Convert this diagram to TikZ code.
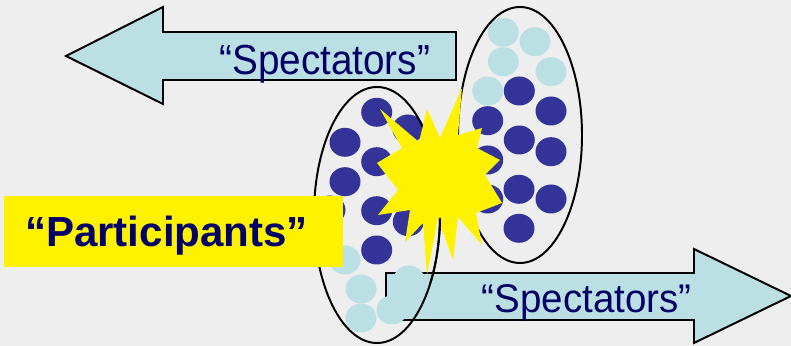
\documentclass[tikz,border=0pt]{standalone}
\usepackage{fontspec}
\usepackage{graphicx}
\setmainfont{Liberation Sans}

\definecolor{fundo}{RGB}{238,238,238}
\definecolor{azulclaro}{RGB}{187,224,227}
\definecolor{azulescuro}{RGB}{51,51,153}
\definecolor{marinho}{RGB}{0,0,102}

\tikzset{
    pics/particula/.style={
        code={
            \fill[#1] (0,0) ellipse[x radius=15.5, y radius=14.5];
        }
    },
    seta/.style={draw=black, fill=azulclaro, line width=1.4pt},
    oval/.style={draw=black, line width=1.4pt},
    rotulo/.style={text=marinho, inner sep=0pt, anchor=base}
}

\begin{document}
\begin{tikzpicture}[x=0.025cm, y=-0.025cm]
                      \path[use as bounding box, fill=fundo] (0,0) rectangle (791,346);

                      % setas
                      \draw[seta] (386,273) -- (694,273) -- (694,249) -- (791,296)
                                  -- (694,343) -- (694,320) -- (386,320) -- cycle;
                      \draw[seta] (456,32) -- (163,32) -- (163,7) -- (66,56)
                                  -- (163,104) -- (163,80) -- (456,80) -- cycle;
                      \node[rotulo] (espectadoresA) at (324.7,75)
                           {\fontsize{29.9}{34}\selectfont\scalebox{0.92}[1]{“Spectators”}};
                      \node[rotulo] (espectadoresB) at (586.7,313)
                           {\fontsize{28.5}{34}\selectfont\scalebox{0.96}[1]{“Spectators”}};

                      % particulas
                      \foreach \x/\y in {376.7/112.3, 408/129, 345/142.3, 376.7/161.7, 345/181.7,
                                         376.7/210.7, 408.3/221.7, 330/210, 376.7/250,
                                         519.3/91, 551/111, 487.7/120.7, 519.3/140, 551/151.7,
                                         487.7/160, 519/189.3, 551/199, 487.7/199, 519/228.3}
                          \pic[shift={(\x,\y)}]{particula=azulescuro};
                      \foreach \x/\y in {345/260, 361/289, 361/318, 409/280, 392/310,
                                         503.3/32.3, 535/41.7, 503.3/61.7, 551/71.7, 487.7/91}
                          \pic[shift={(\x,\y)}]{particula=azulclaro};

                      \draw[oval] (377,215) ellipse[x radius=63, y radius=128];
                      \draw[oval] (520,135) ellipse[x radius=62, y radius=128];

                      % colisao
                      \fill[yellow] (462,88) -- (458,135) -- (482,128) -- (477,148) -- (500,160)
                                    -- (485,175) -- (502,203) -- (476,213) -- (482,245) -- (458,217)
                                    -- (453,260) -- (438,218) -- (427,275) -- (423,223) -- (405,242)
                                    -- (410,210) -- (378,215) -- (398,190) -- (377,163) -- (402,148)
                                    -- (380,109) -- (419,142) -- (427,109) -- (440,138) -- cycle;
                      \draw[oval] (377,215) ++(1.3:63 and 128) arc[start angle=1.3, end angle=32, x radius=63, y radius=128];

                      \fill[yellow] (4,196) rectangle (343,267);
                      \node[rotulo] (participantes) at (166.5,247)
                           {\fontsize{29.9}{34}\selectfont\bfseries “Participants”};
                  \end{tikzpicture}
\end{document}
